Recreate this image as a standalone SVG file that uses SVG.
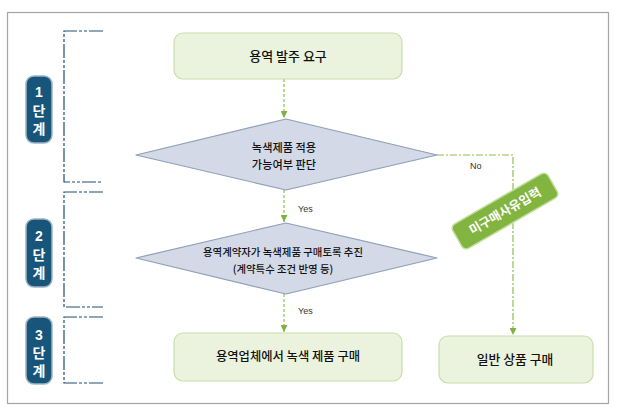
<svg xmlns="http://www.w3.org/2000/svg" width="619" height="417" viewBox="0 0 619 417">
<defs>
<marker id="ah" viewBox="0 0 10 10" refX="10" refY="5" markerWidth="7" markerHeight="7" orient="auto" markerUnits="userSpaceOnUse">
<path d="M0,0 L10,5 L0,10 z" fill="#7cb342"/>
</marker>
<style>
.frame{fill:#fff;stroke:#a6a6a6;stroke-width:1.2}
.br{fill:none;stroke:#1f4e6e;stroke-width:1.2;stroke-dasharray:14 2 3 2 3 2}
.badge{fill:#18557a;stroke:#9fb4c4;stroke-width:1.5}
.bt{font-family:"Liberation Sans","Noto Sans CJK KR",sans-serif;font-weight:bold;font-size:14px;fill:#fff;text-anchor:middle}
.box{fill:#ebf3de;stroke:#c7dfa8;stroke-width:1.2}
.dia{fill:#d3d9e6;stroke:#8f9fb8;stroke-width:1.2;stroke-linejoin:round}
.t{font-family:"Noto Sans CJK KR",sans-serif;font-weight:500;fill:#111;text-anchor:middle}
.c{fill:none;stroke:#8cc04a;stroke-width:1.2;stroke-dasharray:3 2}
.cn{fill:none;stroke:#8cc04a;stroke-width:1.2;stroke-dasharray:7 2 2 2}
.lbl{font-family:"Liberation Sans",sans-serif;font-size:9px;fill:#333}
</style>
</defs>
<rect class="frame" x="7.5" y="12.5" width="601" height="391"/>

<g id="brackets">
<path class="br" d="M103,31 H64 V182 H103"/>
<path class="br" d="M103,192 H64 V307 H103"/>
<path class="br" d="M103,317 H64 V383 H103"/>
</g>

<g id="stage1">
<rect class="badge" x="26" y="76" width="26" height="67" rx="8"/>
<text class="bt" x="39" y="97">1</text>
<text class="bt" x="39" y="116">단</text>
<text class="bt" x="39" y="134">계</text>
</g>
<g id="stage2">
<rect class="badge" x="26" y="219" width="26" height="68" rx="8"/>
<text class="bt" x="39" y="241">2</text>
<text class="bt" x="39" y="260">단</text>
<text class="bt" x="39" y="278">계</text>
</g>
<g id="stage3">
<rect class="badge" x="26" y="317" width="26" height="67" rx="8"/>
<text class="bt" x="39" y="340">3</text>
<text class="bt" x="39" y="358">단</text>
<text class="bt" x="39" y="376">계</text>
</g>

<g id="connectors">
<path class="c" d="M284,79 V118" marker-end="url(#ah)"/>
<path class="c" d="M284,190 V222" marker-end="url(#ah)"/>
<path class="c" d="M284,294 V332" marker-end="url(#ah)"/>
<path class="cn" d="M437,155 H513 V335" marker-end="url(#ah)"/>
<text class="lbl" x="298" y="212">Yes</text>
<text class="lbl" x="298" y="314">Yes</text>
<text class="lbl" x="470" y="169">No</text>
</g>

<g id="n-request">
<rect class="box" x="174" y="33" width="228" height="46" rx="9"/>
<text class="t" x="288" y="61" font-size="13">용역 발주 요구</text>
</g>

<g id="n-decide">
<path class="dia" d="M286,119 L437,155 L286,190 L136,155 Z"/>
<text class="t" x="284" y="152" font-size="11.2">녹색제품 적용</text>
<text class="t" x="284" y="169" font-size="11.2">가능여부 판단</text>
</g>

<g id="n-promote">
<path class="dia" d="M286,223 L437,258 L286,294 L136,258 Z"/>
<text class="t" x="283" y="256" font-size="10.4">용역계약자가 녹색제품 구매토록 추진</text>
<text class="t" x="283" y="273" font-size="10.4">(계약특수 조건 반영 등)</text>
</g>

<g id="n-green">
<rect class="box" x="174" y="333" width="228" height="48" rx="9"/>
<text class="t" x="288" y="361" font-size="12.3">용역업체에서 녹색 제품 구매</text>
</g>

<g id="n-general">
<rect class="box" x="439" y="336" width="154" height="47" rx="9"/>
<text class="t" x="515" y="364" font-size="12.8">일반 상품 구매</text>
</g>

<g id="n-reason" transform="translate(505,211) rotate(-30)">
<rect x="-55" y="-14" width="110" height="28" rx="5" fill="#82b540" stroke="#c4de9c" stroke-width="1.5"/>
<text x="0" y="4.5" font-family="Noto Sans CJK KR,sans-serif" font-weight="bold" font-size="12.5" fill="#fff" text-anchor="middle">미구매사유입력</text>
</g>
</svg>
